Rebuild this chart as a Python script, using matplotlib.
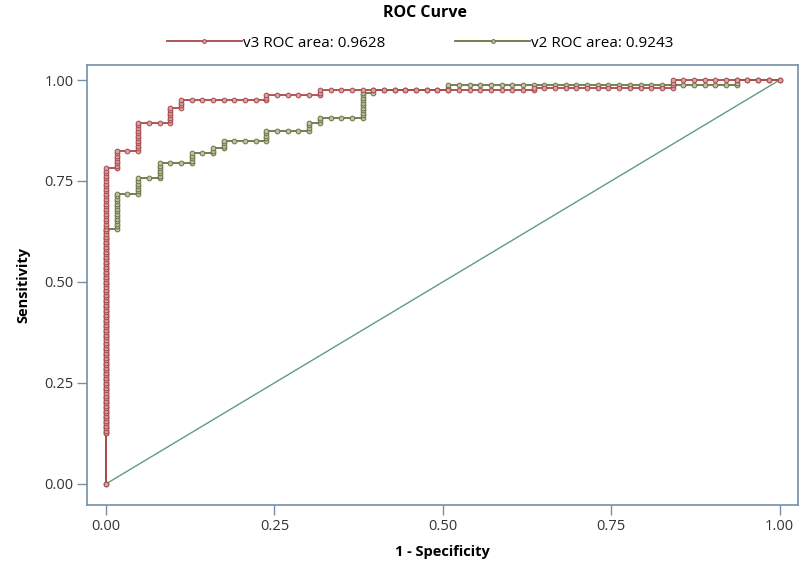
import numpy as np
import matplotlib.pyplot as plt

plt.rcParams['font.family'] = ['Open Sans', 'DejaVu Sans']

N_NEG = 63
N_POS = 160

# ROC built from threshold runs: (number of thresholds, negatives added, positives added)
v3_runs = [(1, 0, 20), (105, 0, 1), (1, 1, 0), (7, 0, 1), (2, 1, 0), (11, 0, 1),
           (3, 1, 0), (6, 0, 1), (1, 1, 0), (3, 0, 1), (8, 1, 0), (2, 0, 1),
           (5, 1, 0), (2, 0, 1), (20, 1, 0), (1, 0, 1), (13, 1, 0), (3, 0, 1),
           (10, 1, 0)]
v2_runs = [(1, 0, 20), (81, 0, 1), (1, 1, 0), (14, 0, 1), (2, 1, 0), (6, 0, 1),
           (2, 1, 0), (6, 0, 1), (3, 1, 0), (4, 0, 1), (2, 1, 0), (2, 0, 1),
           (1, 1, 0), (3, 0, 1), (4, 1, 0), (4, 0, 1), (4, 1, 0), (3, 0, 1),
           (1, 1, 0), (2, 0, 1), (4, 1, 0), (10, 0, 1), (1, 1, 0), (1, 0, 1),
           (7, 1, 0), (2, 0, 1), (27, 1, 0), (2, 0, 1), (4, 1, 0)]

labels = ["v3 ROC area: 0.9628", "v2 ROC area: 0.9243"]
ticks = [0.0, 0.25, 0.5, 0.75, 1.0]
tick_labels = ["0.00", "0.25", "0.50", "0.75", "1.00"]


def roc_points(runs):
    fp, tp = [0], [0]
    for n, dn, dp in runs:
        for _ in range(n):
            fp.append(fp[-1] + dn)
            tp.append(tp[-1] + dp)
    return np.array(fp) / N_NEG, np.array(tp) / N_POS


frame_col = "#7590a6"
fig = plt.figure(figsize=(8, 5.66), dpi=100)
ax = fig.add_axes([0.109, 0.108, 0.889, 0.777])

x3, y3 = roc_points(v3_runs)
x2, y2 = roc_points(v2_runs)

ax.plot([0, 1], [0, 1], color="#5f9c86", lw=1.0, zorder=1)
l2, = ax.plot(x2, y2, color="#6b7445", lw=1.3, marker="o", ms=3.4,
              mfc="#bcc4a0", mec="#6b7445", mew=0.7, zorder=2)
l3, = ax.plot(x3, y3, color="#a8494b", lw=1.3, marker="o", ms=3.4,
              mfc="#d7a3a3", mec="#a8494b", mew=0.7, zorder=3)

ax.set_xlim(-0.028, 1.028)
ax.set_ylim(-0.052, 1.037)
ax.set_xticks(ticks)
ax.set_xticklabels(tick_labels)
ax.set_yticks(ticks)
ax.set_yticklabels(tick_labels)
ax.tick_params(direction="out", length=7, width=1, color=frame_col,
               labelsize=10.5, labelcolor="#333333", pad=3)
for s in ax.spines.values():
    s.set_color(frame_col)
    s.set_linewidth(1.2)

ax.set_xlabel("1 - Specificity", fontsize=10.5, fontweight="bold", labelpad=8)
ax.set_ylabel("Sensitivity", fontsize=10.5, fontweight="bold", labelpad=10)

fig.text(0.531, 0.977, "ROC Curve", ha="center", va="center", fontsize=11.5,
         fontweight="bold")
fig.legend([l3, l2], labels, loc="center", bbox_to_anchor=(0.525, 0.924),
           ncol=2, frameon=False, fontsize=11, handlelength=4.9, numpoints=1,
           columnspacing=4.6, handletextpad=0.05, markerscale=0.8)

fig.savefig("out.png", dpi=100)
